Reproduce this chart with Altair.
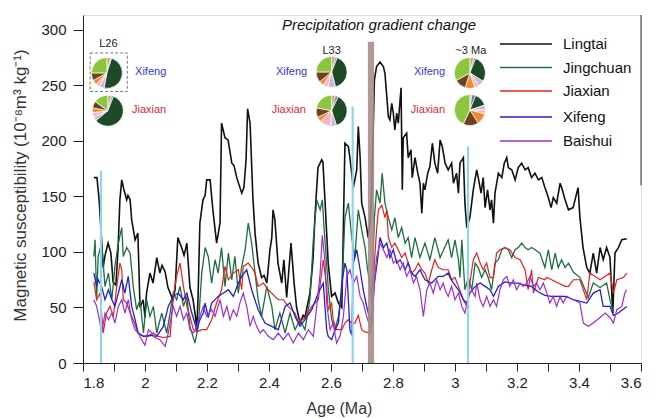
import altair as alt
import pandas as pd

# ---------------- data ----------------
series_names = ["Lingtai", "Jingchuan", "Jiaxian", "Xifeng", "Baishui"]
series_colors = ["#111111", "#1d6e3f", "#e4211c", "#1f1fd8", "#9a2fd5"]
series_widths = [1.6, 1.3, 1.2, 1.3, 1.2]

lingtai = [(1.835,167),(1.845,167),(1.852,147),(1.860,111),(1.865,86),(1.871,97),(1.881,108),(1.887,102),(1.890,99),(1.897,73),(1.906,70),(1.913,102),(1.919,147),(1.925,165),(1.932,156),(1.941,147),(1.945,151),(1.952,147),(1.957,129),(1.968,111),(1.977,117),(1.984,50),(1.994,57),(2.000,41),(2.005,63),(2.016,81),(2.026,72),(2.038,95),(2.048,81),(2.055,88),(2.065,82),(2.074,68),(2.090,57),(2.097,66),(2.106,113),(2.118,104),(2.126,97),(2.135,108),(2.145,68),(2.155,57),(2.161,45),(2.167,32),(2.171,57),(2.177,126),(2.187,147),(2.194,151),(2.199,165),(2.210,165),(2.219,138),(2.231,108),(2.242,126),(2.247,216),(2.258,203),(2.268,201),(2.280,180),(2.287,178),(2.296,167),(2.312,153),(2.319,158),(2.326,183),(2.331,229),(2.339,216),(2.348,149),(2.355,117),(2.365,90),(2.376,77),(2.384,79),(2.393,72),(2.403,102),(2.409,113),(2.413,138),(2.419,129),(2.429,90),(2.441,72),(2.448,93),(2.457,59),(2.471,108),(2.481,72),(2.489,50),(2.500,36),(2.510,43),(2.516,41),(2.532,63),(2.542,93),(2.548,131),(2.558,176),(2.570,183),(2.574,181),(2.581,144),(2.591,90),(2.602,60),(2.613,63),(2.624,54),(2.635,50),(2.645,198),(2.656,195),(2.661,185),(2.672,158),(2.683,174),(2.688,213),(2.694,185),(2.699,144),(2.710,131),(2.720,113),(2.726,126),(2.731,150),(2.740,255),(2.747,267),(2.758,271),(2.769,267),(2.774,261),(2.780,240),(2.785,222),(2.790,219),(2.796,234),(2.801,225),(2.806,210),(2.812,225),(2.817,216),(2.826,248),(2.830,156),(2.833,203),(2.844,207),(2.849,185),(2.858,192),(2.862,167),(2.871,185),(2.880,171),(2.887,162),(2.893,135),(2.898,162),(2.903,156),(2.912,171),(2.919,177),(2.927,198),(2.935,180),(2.944,171),(2.952,201),(2.959,195),(2.968,180),(2.978,174),(2.989,180),(2.995,162),(3.005,171),(3.011,153),(3.016,180),(3.027,185),(3.032,144),(3.038,122),(3.048,131),(3.059,156),(3.070,174),(3.075,167),(3.084,153),(3.091,167),(3.097,140),(3.105,156),(3.113,138),(3.118,147),(3.124,126),(3.129,153),(3.140,171),(3.151,167),(3.159,180),(3.167,185),(3.172,176),(3.183,174),(3.194,165),(3.204,176),(3.215,180),(3.226,174),(3.236,176),(3.247,167),(3.258,171),(3.269,165),(3.280,167),(3.290,158),(3.301,149),(3.310,140),(3.317,149),(3.328,144),(3.339,162),(3.344,158),(3.355,147),(3.366,138),(3.381,140),(3.397,158),(3.403,131),(3.413,104),(3.425,86),(3.435,81),(3.446,99),(3.457,81),(3.468,104),(3.478,93),(3.489,104),(3.500,95),(3.509,45),(3.516,99),(3.527,104),(3.538,111),(3.554,112)]

jingchuan = [(1.835,96),(1.839,111),(1.844,57),(1.849,96),(1.860,108),(1.871,69),(1.882,81),(1.893,57),(1.903,87),(1.914,108),(1.925,122),(1.930,96),(1.941,104),(1.952,99),(1.962,69),(1.973,48),(1.984,57),(1.995,27),(2.005,57),(2.016,42),(2.027,51),(2.038,27),(2.054,45),(2.070,27),(2.081,45),(2.091,63),(2.102,57),(2.113,69),(2.124,51),(2.135,60),(2.145,33),(2.161,18),(2.172,33),(2.183,81),(2.194,104),(2.204,96),(2.215,72),(2.226,93),(2.236,81),(2.247,104),(2.258,69),(2.269,99),(2.280,75),(2.290,96),(2.301,63),(2.312,87),(2.323,102),(2.333,126),(2.344,108),(2.355,81),(2.365,57),(2.376,42),(2.393,69),(2.409,51),(2.419,30),(2.435,45),(2.452,27),(2.468,45),(2.484,30),(2.500,39),(2.516,30),(2.532,57),(2.543,111),(2.554,147),(2.565,138),(2.572,147),(2.578,120),(2.586,90),(2.591,68),(2.602,39),(2.613,30),(2.624,42),(2.635,66),(2.645,131),(2.656,144),(2.667,113),(2.677,95),(2.688,138),(2.699,120),(2.710,104),(2.718,84),(2.726,72),(2.731,54),(2.740,131),(2.747,156),(2.758,144),(2.765,171),(2.774,144),(2.785,131),(2.796,120),(2.806,131),(2.817,113),(2.828,122),(2.839,108),(2.849,113),(2.860,95),(2.871,113),(2.887,95),(2.903,108),(2.919,93),(2.935,113),(2.952,95),(2.968,105),(2.978,111),(2.989,95),(3.000,111),(3.011,93),(3.016,77),(3.022,111),(3.032,66),(3.043,77),(3.054,66),(3.065,90),(3.075,86),(3.086,77),(3.097,84),(3.107,77),(3.118,66),(3.129,90),(3.140,93),(3.151,102),(3.161,104),(3.172,102),(3.183,95),(3.194,102),(3.204,104),(3.215,108),(3.226,104),(3.236,102),(3.247,104),(3.258,102),(3.274,99),(3.290,86),(3.301,102),(3.312,84),(3.323,99),(3.333,86),(3.344,93),(3.355,86),(3.366,90),(3.382,82),(3.403,77),(3.430,59),(3.446,72),(3.468,68),(3.489,72),(3.500,57),(3.511,45)]

jiaxian = [(1.835,73),(1.844,57),(1.855,63),(1.865,27),(1.876,45),(1.887,51),(1.898,42),(1.909,69),(1.919,90),(1.925,84),(1.930,57),(1.941,54),(1.952,45),(1.962,39),(1.978,27),(1.995,24),(2.011,24),(2.027,27),(2.043,24),(2.059,23),(2.081,24),(2.091,60),(2.102,78),(2.113,90),(2.124,69),(2.135,51),(2.145,42),(2.156,30),(2.167,28),(2.183,30),(2.199,30),(2.215,39),(2.231,54),(2.247,66),(2.258,87),(2.269,75),(2.285,81),(2.301,84),(2.312,66),(2.317,87),(2.333,90),(2.349,84),(2.355,81),(2.365,69),(2.382,72),(2.398,66),(2.419,60),(2.430,57),(2.446,57),(2.462,51),(2.484,45),(2.495,36),(2.516,41),(2.538,51),(2.559,57),(2.575,93),(2.586,69),(2.591,48),(2.602,54),(2.607,39),(2.618,30),(2.635,30),(2.645,36),(2.656,39),(2.667,36),(2.677,36),(2.688,43),(2.699,30),(2.710,28),(2.726,27),(2.733,39),(2.740,90),(2.747,120),(2.753,138),(2.764,142),(2.774,131),(2.780,138),(2.785,113),(2.796,104),(2.806,108),(2.817,102),(2.828,95),(2.839,99),(2.849,90),(2.860,81),(2.871,84),(2.882,90),(2.893,84),(2.903,81),(2.914,72),(2.925,84),(2.935,93),(2.946,86),(2.962,84),(2.978,84),(2.989,75),(3.000,77),(3.011,69),(3.027,57),(3.038,51),(3.048,72),(3.059,93),(3.070,99),(3.081,90),(3.091,84),(3.102,90),(3.113,77),(3.124,77),(3.134,99),(3.145,102),(3.161,104),(3.177,102),(3.194,95),(3.210,93),(3.226,84),(3.236,66),(3.247,84),(3.253,63),(3.269,77),(3.290,75),(3.296,77),(3.312,75),(3.333,72),(3.355,69),(3.366,69),(3.382,75),(3.403,75),(3.425,57),(3.435,81),(3.468,75),(3.500,81),(3.511,63),(3.522,75),(3.543,77),(3.554,81)]

xifeng = [(1.835,81),(1.844,69),(1.849,75),(1.860,69),(1.871,57),(1.882,66),(1.893,57),(1.903,51),(1.914,63),(1.925,75),(1.935,63),(1.946,78),(1.957,51),(1.968,39),(1.978,27),(1.995,24),(2.016,25),(2.038,24),(2.059,33),(2.075,51),(2.091,60),(2.107,63),(2.124,57),(2.135,63),(2.151,45),(2.167,30),(2.177,39),(2.188,45),(2.194,54),(2.204,41),(2.215,54),(2.236,60),(2.253,63),(2.269,66),(2.285,60),(2.301,72),(2.312,78),(2.328,84),(2.344,66),(2.365,48),(2.387,36),(2.409,33),(2.430,30),(2.452,51),(2.468,54),(2.484,42),(2.500,33),(2.516,39),(2.538,48),(2.559,63),(2.575,72),(2.586,30),(2.591,24),(2.602,21),(2.613,30),(2.624,36),(2.635,72),(2.645,90),(2.651,84),(2.661,30),(2.667,25),(2.672,90),(2.683,102),(2.694,84),(2.704,66),(2.715,51),(2.726,39),(2.731,41),(2.740,72),(2.751,95),(2.758,113),(2.769,104),(2.780,108),(2.790,95),(2.801,102),(2.812,90),(2.823,93),(2.839,84),(2.849,90),(2.860,81),(2.871,78),(2.887,84),(2.903,75),(2.925,72),(2.946,78),(2.962,78),(2.978,81),(2.984,77),(2.995,72),(3.011,66),(3.027,57),(3.038,54),(3.048,63),(3.065,69),(3.081,72),(3.097,69),(3.113,66),(3.124,60),(3.140,69),(3.161,73),(3.183,72),(3.204,72),(3.226,70),(3.247,69),(3.269,64),(3.290,61),(3.312,60),(3.333,60),(3.355,60),(3.366,59),(3.382,57),(3.425,54),(3.446,63),(3.468,66),(3.478,51),(3.500,51),(3.511,43),(3.527,45),(3.554,51)]

baishui = [(1.835,57),(1.844,51),(1.853,39),(1.860,27),(1.871,45),(1.882,39),(1.893,45),(1.903,36),(1.914,51),(1.925,57),(1.935,45),(1.946,57),(1.957,39),(1.968,30),(1.978,27),(1.989,21),(2.000,16),(2.011,30),(2.022,27),(2.032,23),(2.048,21),(2.065,15),(2.075,27),(2.091,51),(2.102,42),(2.113,51),(2.124,39),(2.135,45),(2.145,30),(2.156,27),(2.167,33),(2.177,42),(2.188,51),(2.199,42),(2.215,48),(2.226,42),(2.242,57),(2.253,42),(2.264,51),(2.274,39),(2.285,48),(2.296,42),(2.306,54),(2.317,63),(2.328,51),(2.339,33),(2.349,42),(2.360,33),(2.371,27),(2.382,30),(2.398,24),(2.414,21),(2.430,27),(2.446,21),(2.462,27),(2.478,18),(2.495,27),(2.511,21),(2.527,30),(2.543,24),(2.554,51),(2.565,81),(2.572,115),(2.581,90),(2.586,54),(2.597,30),(2.607,36),(2.618,18),(2.629,24),(2.640,42),(2.651,78),(2.661,84),(2.672,72),(2.683,78),(2.694,60),(2.704,54),(2.715,42),(2.726,33),(2.733,36),(2.740,72),(2.747,95),(2.758,108),(2.769,102),(2.780,95),(2.790,102),(2.801,90),(2.812,93),(2.823,84),(2.833,90),(2.844,78),(2.855,84),(2.866,72),(2.876,78),(2.887,66),(2.898,42),(2.909,66),(2.919,72),(2.930,63),(2.941,75),(2.952,66),(2.962,72),(2.968,66),(2.978,60),(2.989,69),(3.000,57),(3.011,63),(3.022,51),(3.032,45),(3.043,60),(3.054,66),(3.065,60),(3.070,72),(3.081,57),(3.091,51),(3.102,60),(3.113,51),(3.124,57),(3.134,51),(3.145,66),(3.156,75),(3.167,78),(3.177,69),(3.188,75),(3.199,66),(3.210,72),(3.220,69),(3.231,72),(3.242,78),(3.253,69),(3.263,72),(3.274,66),(3.285,72),(3.296,63),(3.306,54),(3.317,60),(3.328,51),(3.339,60),(3.349,54),(3.360,60),(3.382,57),(3.403,54),(3.414,36),(3.430,33),(3.446,36),(3.468,41),(3.484,45),(3.500,41),(3.511,36),(3.522,48),(3.538,51),(3.548,63),(3.554,66)]

x_ticks = [1.8, 1.9, 2.0, 2.1, 2.2, 2.3, 2.4, 2.5, 2.6, 2.7, 2.8, 2.9, 3.0, 3.1, 3.2, 3.3, 3.4, 3.5, 3.6]
y_ticks = [0, 50, 100, 150, 200, 250, 300]

marker_age = [1.858, 2.670, 3.042]
marker_top = [173, 231, 195]
band_start, band_end, band_top = 2.719, 2.739, 289.5

slice_order = ["tan", "blue", "darkgreen", "lavender", "pink", "orange", "brown", "lightgreen"]
slice_colors = ["#c4a56e", "#5e7fb8", "#1f4a27", "#c9b5da", "#f3b6c6", "#f08a2c", "#6e4221", "#8cc63f"]
pie_ids = ["L26 Xifeng", "L26 Jiaxian", "L33 Xifeng", "L33 Jiaxian", "3Ma Xifeng", "3Ma Jiaxian"]
pie_age = [1.877, 1.880, 2.602, 2.602, 3.048, 3.048]
pie_val = [261.3, 227.3, 262.2, 227.3, 261.3, 227.9]
pie_fracs = [
    [4, 1, 48, 5, 4, 5, 8, 25],
    [4, 2, 58, 4, 5, 5, 7, 15],
    [4, 2, 40, 8, 5, 5, 11, 25],
    [4, 3, 38, 6, 12, 5, 10, 22],
    [4, 2, 28, 6, 5, 10, 12, 33],
    [2, 4, 14, 5, 4, 12, 16, 43],
]

horizon_text = ["L26", "L33", "~3 Ma"]
horizon_age = [1.882, 2.602, 3.051]
horizon_val = [287.4, 281.4, 281.0]

site_text = ["Xifeng", "Jiaxian", "Xifeng", "Jiaxian", "Xifeng", "Jiaxian"]
site_age = [1.968, 1.958, 2.523, 2.519, 2.968, 2.968]
site_val = [262.2, 227.5, 262.2, 227.5, 262.2, 227.5]
site_align = ["left", "left", "right", "right", "right", "right"]
site_colors = {"Xifeng": "#3535d8", "Jiaxian": "#e02a2a"}

box_age = [1.823, 1.943]
box_val = [244.6, 279.3]

title_text = "Precipitation gradient change"
title_age, title_val = 2.755, 304.5

# ---------------- scales / axes ----------------
FONT = "Liberation Sans"
xs = alt.Scale(domain=[1.8, 3.6], nice=False, zero=False)
ys = alt.Scale(domain=[0, 313.5], nice=False, zero=True)

xaxis = alt.Axis(values=x_ticks, format="~g",
                 labelExpr="(round(datum.value*10) % 2 == 0) ? datum.label : ''",
                 labelOverlap=False, grid=False, tickSize=8, labelPadding=4,
                 labelFontSize=15, labelColor="#222", domainColor="#222", tickColor="#222",
                 title="Age (Ma)", titleFontSize=16, titleFontWeight="normal", titleColor="#333",
                 titleX=256, titleY=45, titleBaseline="middle", titleAlign="center")
yaxis = alt.Axis(values=y_ticks, grid=False, tickSize=10, labelPadding=7,
                 labelFontSize=15, labelColor="#222", domainColor="#222", tickColor="#222",
                 title="Magnetic susceptibility (10⁻⁸m³ kg⁻¹)", titleFontSize=17,
                 titleFontWeight="normal", titleColor="#333", titleAngle=-90,
                 titleX=-63, titleY=170, titleBaseline="middle", titleAlign="center")

def X(f):
    return alt.X(f, type="quantitative", scale=xs, axis=xaxis)

def Y(f):
    return alt.Y(f, type="quantitative", scale=ys, axis=yaxis)

layers = []

# series lines
all_series = [lingtai, jingchuan, jiaxian, xifeng, baishui]
for name, pts, col, w in zip(series_names, all_series, series_colors, series_widths):
    df = pd.DataFrame(pts, columns=["age", "val"])
    df["series"] = name
    layers.append(alt.Chart(df).mark_line(color=col, strokeWidth=w).encode(
        x=X("age"), y=Y("val")))

# brown band
band_df = pd.DataFrame({"a0": [band_start], "a1": [band_end], "v0": [0], "v1": [band_top]})
layers.append(alt.Chart(band_df).mark_rect(color="#a58a89", opacity=0.88).encode(
    x=X("a0"), x2="a1", y=Y("v0"), y2="v1"))

# light blue markers
mk_df = pd.DataFrame({"age": marker_age, "top": marker_top, "zero": [0, 0, 0]})
layers.append(alt.Chart(mk_df).mark_rule(color="#8fd3f0", strokeWidth=2.2).encode(
    x=X("age"), y=Y("zero"), y2="top"))

# right frame line (legend box edge)
frame_df = pd.DataFrame({"age": [3.6], "v0": [160], "v1": [313.5]})
layers.append(alt.Chart(frame_df).mark_rule(color="#333", strokeWidth=1).encode(
    x=X("age"), y=Y("v0"), y2="v1"))

# pies
rows = []
for pid, cx, cy, fr in zip(pie_ids, pie_age, pie_val, pie_fracs):
    for k, (sn, sc, p) in enumerate(zip(slice_order, slice_colors, fr)):
        rows.append({"pie": pid, "k": k, "slice": sn, "col": sc, "pct": p, "cx": cx, "cy": cy})
pie_df = pd.DataFrame(rows)
th = alt.Scale(domain=[0, 100], range=[0, 6.283185307])
pies = alt.Chart(pie_df).transform_window(
    cum="sum(pct)", groupby=["pie"], sort=[alt.SortField("k")]
).transform_calculate(
    start="datum.cum - datum.pct"
).mark_arc(radius=15.5, stroke="white", strokeWidth=0.7).encode(
    x=X("cx"), y=Y("cy"),
    theta=alt.Theta("start:Q", scale=th, stack=None),
    theta2="cum:Q",
    fill=alt.Fill("col:N", scale=None),
)
layers.append(pies)

# dashed box
box_df = pd.DataFrame({"a0": [box_age[0]], "a1": [box_age[1]], "v0": [box_val[0]], "v1": [box_val[1]]})
layers.append(alt.Chart(box_df).mark_rect(fillOpacity=0, stroke="#777", strokeWidth=1,
                                          strokeDash=[3, 2]).encode(
    x=X("a0"), x2="a1", y=Y("v0"), y2="v1"))

# horizon labels
hz_df = pd.DataFrame({"t": horizon_text, "age": horizon_age, "val": horizon_val})
layers.append(alt.Chart(hz_df).mark_text(font=FONT, fontSize=11, color="#222", baseline="middle").encode(
    x=X("age"), y=Y("val"), text="t:N"))

# site labels
for t, a, v, al in zip(site_text, site_age, site_val, site_align):
    sdf = pd.DataFrame({"t": [t], "age": [a], "val": [v]})
    layers.append(alt.Chart(sdf).mark_text(font=FONT, fontSize=11, color=site_colors[t],
                                           align=al, baseline="middle").encode(
        x=X("age"), y=Y("val"), text="t:N"))

# title
tdf = pd.DataFrame({"t": [title_text], "age": [title_age], "val": [title_val]})
layers.append(alt.Chart(tdf).mark_text(font=FONT, fontSize=15, fontStyle="italic", color="#111",
                                       baseline="middle").encode(
    x=X("age"), y=Y("val"), text="t:N"))

# manual legend
legend_rows_y = [29, 52.5, 76, 102, 126]
for name, col, ly in zip(series_names, series_colors, legend_rows_y):
    ldf = pd.DataFrame({"t": [name]})
    layers.append(alt.Chart(ldf).mark_rule(color=col, strokeWidth=1.6).encode(
        x=alt.value(417), x2=alt.value(469), y=alt.value(ly)))
    layers.append(alt.Chart(ldf).mark_text(font=FONT, fontSize=15, color="#111",
                                           align="left", baseline="middle").encode(
        x=alt.value(480), y=alt.value(ly), text="t:N"))

chart = alt.layer(*layers).properties(
    width=558, height=348,
    padding={"left": 83, "top": 15, "right": 15, "bottom": 55},
    autosize=alt.AutoSizeParams(type="none"),
    background="white",
).configure_view(stroke=None).configure(font=FONT)

chart.save("out.html", embed_options={"renderer": "svg", "actions": False})
